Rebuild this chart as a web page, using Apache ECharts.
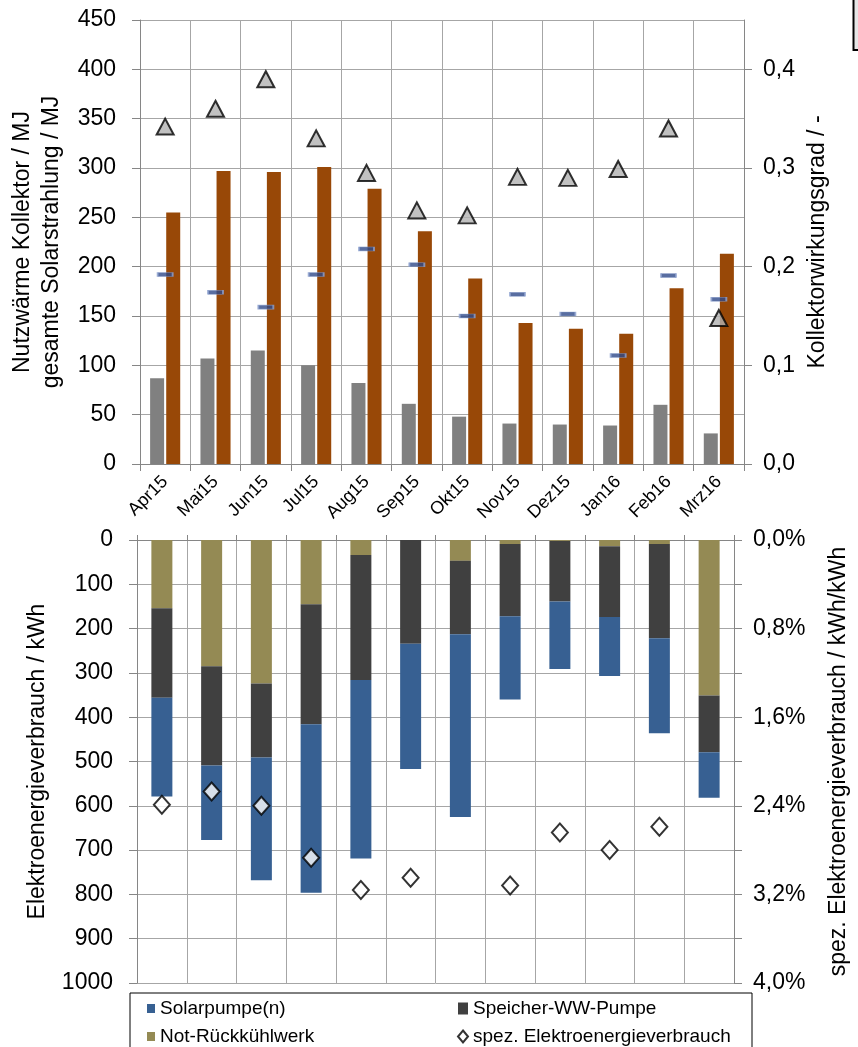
<!DOCTYPE html>
<html>
<head>
<meta charset="utf-8">
<script src="https://cdn.jsdelivr.net/npm/echarts@6/dist/echarts.min.js"></script>
<style>
html,body{margin:0;padding:0;background:#fff;}
#chart{width:858px;height:1047px;}
</style>
</head>
<body>
<div id="chart"></div>
<script>
const months = ['Apr15','Mai15','Jun15','Jul15','Aug15','Sep15','Okt15','Nov15','Dez15','Jan16','Feb16','Mrz16'];
const nutzwaerme = [87,107,115,100,82,61,48,41,40,39,60,31];
const solarstrahlung = [255,297,296,301,279,236,188,143,137,132,178,213];
const wirkungsgrad = [0.342,0.360,0.390,0.330,0.295,0.257,0.252,0.291,0.290,0.299,0.340,0.148];
const wirkungsgradDash = [0.192,0.174,0.159,0.192,0.218,0.202,0.150,0.172,0.152,0.110,0.191,0.167];
const notRueckkuehlwerk = [154,285,324,145,34,0,47,9,2,14,9,351];
const speicherPumpe = [202,224,167,271,282,234,166,163,137,160,213,128];
const solarpumpe = [223,168,277,380,403,283,412,188,152,133,214,103];
const spezVerbrauch = [2.39,2.27,2.40,2.87,3.16,3.05,null,3.12,2.64,2.80,2.59,null];

const FONT = 'Liberation Sans, Arial, sans-serif';
const gridColor = '#a6a6a6';
const axisColor = '#868686';
const tickFont = 23;
const nameFont = 23;

const chart = echarts.init(document.getElementById('chart'), null, {renderer:'canvas'});
const comma = (v, d) => v.toFixed(d).replace('.', ',');

const valueAxisBase = {
  type: 'value',
  axisLine: {show: true, lineStyle: {color: axisColor, width: 1}},
  axisTick: {show: true, length: 8, lineStyle: {color: axisColor}},
  splitLine: {show: false},
  axisLabel: {fontFamily: FONT, fontSize: tickFont, color: '#000', formatter: v => String(v)},
  nameTextStyle: {fontFamily: FONT, fontSize: nameFont, color: '#000'},
  nameLocation: 'middle',
  nameRotate: 90
};

const option = {
  animation: false,
  backgroundColor: '#fff',
  textStyle: {fontFamily: FONT},
  grid: [
    {left: 137, right: 114, top: 20, height: 444, containLabel: false},
    {left: 137, right: 114, top: 540, height: 443, containLabel: false}
  ],
  xAxis: [
    {
      type: 'category', gridIndex: 0, data: months,
      axisLine: {show: true, lineStyle: {color: axisColor}},
      axisTick: {show: true, length: 7, lineStyle: {color: axisColor}},
      splitLine: {show: true, lineStyle: {color: gridColor}},
      axisLabel: {rotate: 45, fontFamily: FONT, fontSize: 18, color: '#000', margin: 15, interval: 0}
    },
    {
      type: 'category', gridIndex: 1, data: months, position: 'top',
      axisLine: {show: true, onZero: false, lineStyle: {color: axisColor}},
      axisTick: {show: true, length: 5, lineStyle: {color: axisColor}},
      splitLine: {show: true, lineStyle: {color: gridColor}},
      axisLabel: {show: false}
    }
  ],
  yAxis: [
    Object.assign({}, valueAxisBase, {
      gridIndex: 0, min: 0, max: 450, interval: 50, position: 'left',
      splitLine: {show: true, lineStyle: {color: gridColor}},
      axisLabel: Object.assign({}, valueAxisBase.axisLabel, {margin: 24}),
      name: 'Nutzwärme Kollektor / MJ\ngesamte Solarstrahlung / MJ',
      nameGap: 74,
      nameTextStyle: Object.assign({}, valueAxisBase.nameTextStyle, {lineHeight: 29})
    }),
    Object.assign({}, valueAxisBase, {
      gridIndex: 0, min: 0, max: 0.45, interval: 0.1, position: 'right',
      axisLabel: Object.assign({}, valueAxisBase.axisLabel, {margin: 19, showMaxLabel: false,
        formatter: v => comma(v, 1)}),
      name: 'Kollektorwirkungsgrad / -',
      nameGap: 56
    }),
    Object.assign({}, valueAxisBase, {
      gridIndex: 1, min: 0, max: 1000, interval: 100, inverse: true, position: 'left',
      splitLine: {show: true, lineStyle: {color: gridColor}},
      axisLabel: Object.assign({}, valueAxisBase.axisLabel, {margin: 24}),
      name: 'Elektroenergieverbrauch / kWh',
      nameGap: 88
    }),
    Object.assign({}, valueAxisBase, {
      gridIndex: 1, min: 0, max: 4, interval: 0.4, inverse: true, position: 'right',
      axisLabel: Object.assign({}, valueAxisBase.axisLabel, {margin: 19,
        formatter: v => (Math.round(v * 10) % 8 === 0 ? comma(v, 1) + '%' : '')}),
      name: 'spez. Elektroenergieverbrauch / kWh/kWh',
      nameGap: 93
    })
  ],
  legend: [
    {
      orient: 'vertical', left: 147, top: 999, itemGap: 9, itemWidth: 8, itemHeight: 9, padding: 0,
      textStyle: {fontFamily: FONT, fontSize: 19, color: '#000'},
      data: [{name: 'Solarpumpe(n)', icon: 'rect'}, {name: 'Not-Rückkühlwerk', icon: 'rect'}]
    },
    {
      orient: 'vertical', left: 457, top: 999, itemGap: 9, itemWidth: 10, itemHeight: 12, padding: 0,
      textStyle: {fontFamily: FONT, fontSize: 19, color: '#000'},
      data: [{name: 'Speicher-WW-Pumpe', icon: 'rect'}, {name: 'spez. Elektroenergieverbrauch', icon: 'diamond'}]
    }
  ],
  graphic: [
    {type: 'rect', z: -1, shape: {x: 130, y: 993, width: 622, height: 80},
      style: {fill: 'none', stroke: '#000', lineWidth: 1}},
    {type: 'rect', shape: {x: 853.5, y: -3, width: 12, height: 53},
      style: {fill: '#e6e6e6', stroke: '#000', lineWidth: 2}}
  ],
  series: [
    {name: 'Nutzwärme Kollektor', type: 'bar', xAxisIndex: 0, yAxisIndex: 0, data: nutzwaerme,
      barWidth: 14, barGap: '15%', itemStyle: {color: '#808080'}},
    {name: 'gesamte Solarstrahlung', type: 'bar', xAxisIndex: 0, yAxisIndex: 0, data: solarstrahlung,
      barWidth: 14, barGap: '15%', itemStyle: {color: '#984807'}},
    {name: 'Kollektorwirkungsgrad Vergleich', type: 'scatter', xAxisIndex: 0, yAxisIndex: 1, data: wirkungsgradDash,
      symbol: 'rect', symbolSize: [15, 4], z: 5,
      itemStyle: {color: '#2f4a8a', borderColor: '#8ea3cf', borderWidth: 1}},
    {name: 'Kollektorwirkungsgrad', type: 'scatter', xAxisIndex: 0, yAxisIndex: 1, data: wirkungsgrad,
      symbol: 'triangle', symbolSize: [17, 16], z: 6,
      itemStyle: {color: '#b2b2b2', borderColor: '#000', borderWidth: 2}},
    {name: 'Not-Rückkühlwerk', type: 'bar', stack: 'el', xAxisIndex: 1, yAxisIndex: 2, data: notRueckkuehlwerk,
      barWidth: 21, itemStyle: {color: '#948a54'}},
    {name: 'Speicher-WW-Pumpe', type: 'bar', stack: 'el', xAxisIndex: 1, yAxisIndex: 2, data: speicherPumpe,
      barWidth: 21, itemStyle: {color: '#404040'}},
    {name: 'Solarpumpe(n)', type: 'bar', stack: 'el', xAxisIndex: 1, yAxisIndex: 2, data: solarpumpe,
      barWidth: 21, itemStyle: {color: '#376092'}},
    {name: 'spez. Elektroenergieverbrauch', type: 'scatter', xAxisIndex: 1, yAxisIndex: 3, data: spezVerbrauch,
      symbol: 'diamond', symbolSize: [16, 18], z: 6,
      itemStyle: {color: '#fff', borderColor: '#000', borderWidth: 2}}
  ]
};
chart.setOption(option);
</script>
</body>
</html>
